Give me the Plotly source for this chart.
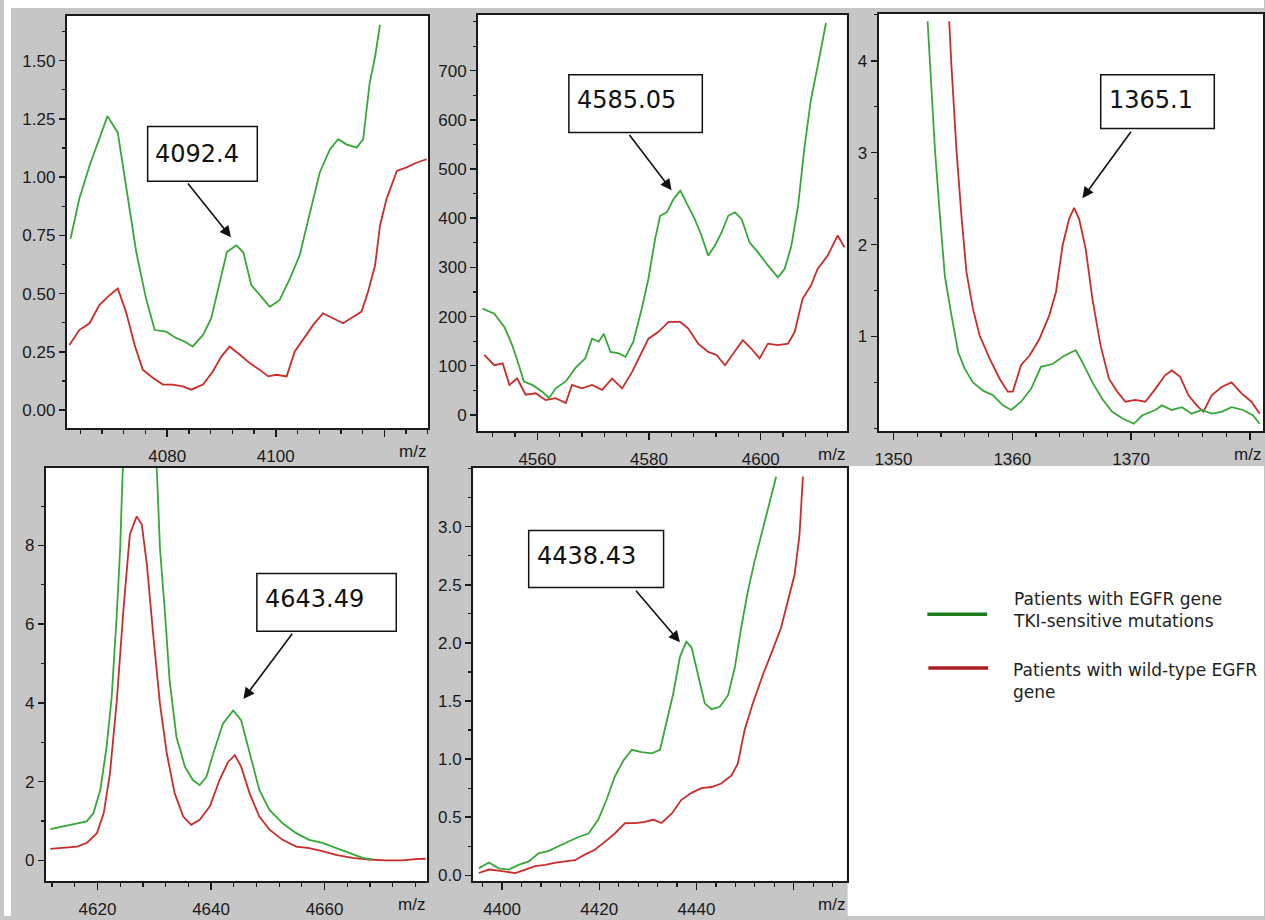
import plotly.graph_objects as go

W, H = 1265, 920

GREEN = "#35a835"
RED = "#cc2b2b"
LEG_GREEN = "#1c7c1c"
LEG_RED = "#a81c22"
GRAY = "#c6c6c6"
INK = "#1a1a1a"

legend_green = "Patients with EGFR gene<br>TKI-sensitive mutations"
legend_red = "Patients with wild-type EGFR<br>gene"

# ---------------- Panel 1 : 4092.4 ----------------
p1_green_mz = [4062.2, 4063.8, 4065.7, 4067.5, 4069.0, 4070.9, 4072.4, 4074.3, 4076.1, 4077.7,
               4079.8, 4081.7, 4083.2, 4084.7, 4086.6, 4088.1, 4089.7, 4091.0, 4092.7, 4094.0,
               4095.5, 4097.0, 4098.9, 4100.7, 4102.6, 4104.4, 4106.3, 4108.1, 4110.0, 4111.5,
               4113.0, 4114.9, 4116.1, 4117.3, 4118.3, 4119.2]
p1_green_int = [0.736, 0.906, 1.049, 1.163, 1.262, 1.191, 0.963, 0.679, 0.480, 0.344,
                0.337, 0.309, 0.295, 0.273, 0.323, 0.394, 0.551, 0.679, 0.707, 0.679,
                0.537, 0.494, 0.444, 0.472, 0.565, 0.665, 0.850, 1.020, 1.120, 1.163,
                1.141, 1.127, 1.163, 1.405, 1.518, 1.654]
p1_red_mz = [4062.0, 4063.8, 4065.7, 4067.5, 4069.4, 4070.9, 4072.4, 4074.0, 4075.5, 4077.4,
             4079.2, 4081.0, 4082.9, 4084.4, 4086.6, 4088.4, 4090.0, 4091.5, 4093.4, 4095.2,
             4097.0, 4098.6, 4100.1, 4102.0, 4103.5, 4105.7, 4106.9, 4108.7, 4110.6, 4112.4,
             4114.3, 4115.8, 4117.0, 4118.3, 4119.2, 4120.4, 4122.3, 4124.1, 4126.0, 4127.8]
p1_red_int = [0.280, 0.344, 0.373, 0.451, 0.494, 0.522, 0.423, 0.280, 0.174, 0.138,
              0.110, 0.110, 0.102, 0.088, 0.110, 0.166, 0.231, 0.273, 0.238, 0.202,
              0.174, 0.145, 0.152, 0.145, 0.252, 0.323, 0.366, 0.416, 0.394, 0.373,
              0.401, 0.423, 0.508, 0.622, 0.793, 0.906, 1.027, 1.042, 1.063, 1.077]
p1_xticks = [4080, 4100, 4120]
p1_xlabels = ["4080", "4100", ""]
p1_yticks = [0.0, 0.25, 0.5, 0.75, 1.0, 1.25, 1.5]
p1_ylabels = ["0.00", "0.25", "0.50", "0.75", "1.00", "1.25", "1.50"]

# ---------------- Panel 2 : 4585.05 ----------------
p2_green_mz = [4550.2, 4552.3, 4554.1, 4555.5, 4556.7, 4557.6, 4559.1, 4560.9, 4562.1, 4563.3,
               4565.1, 4566.8, 4568.6, 4569.8, 4571.0, 4571.9, 4573.1, 4574.6, 4575.8, 4577.2,
               4578.7, 4579.9, 4581.1, 4582.0, 4583.2, 4584.4, 4585.6, 4586.7, 4588.2, 4589.4,
               4590.6, 4591.8, 4593.0, 4594.2, 4595.4, 4596.6, 4598.0, 4599.5, 4601.3, 4603.1,
               4604.3, 4605.5, 4606.7, 4607.8, 4609.0, 4610.2, 4611.7]
p2_green_int = [216, 206, 179, 142, 101, 68, 61, 47, 34, 54,
                68, 95, 115, 155, 149, 165, 128, 125, 118, 149,
                216, 277, 358, 405, 412, 439, 456, 432, 398, 365,
                324, 344, 371, 405, 412, 398, 351, 331, 304, 280,
                297, 344, 425, 540, 641, 709, 797]
p2_red_mz = [4550.5, 4552.3, 4553.8, 4555.0, 4556.4, 4557.9, 4559.7, 4561.5, 4563.3, 4565.1,
             4566.2, 4568.0, 4569.8, 4571.6, 4573.4, 4575.2, 4577.0, 4578.4, 4579.9, 4581.7,
             4583.5, 4585.6, 4587.0, 4588.8, 4590.6, 4592.1, 4593.6, 4595.1, 4596.8, 4598.3,
             4599.8, 4601.3, 4603.1, 4604.9, 4606.1, 4607.5, 4609.0, 4610.2, 4612.0, 4613.8,
             4615.0]
p2_red_int = [122, 101, 105, 61, 74, 41, 44, 30, 34, 24,
              61, 54, 61, 51, 74, 54, 88, 122, 155, 169,
              189, 189, 176, 145, 128, 122, 101, 125, 152, 135,
              115, 145, 142, 145, 169, 236, 263, 297, 324, 365,
              341]
p2_xticks = [4560, 4580, 4600]
p2_xlabels = ["4560", "4580", "4600"]
p2_yticks = [0, 100, 200, 300, 400, 500, 600, 700]
p2_ylabels = ["0", "100", "200", "300", "400", "500", "600", "700"]

# ---------------- Panel 3 : 1365.1 ----------------
p3_green_mz = [1352.87, 1353.07, 1353.49, 1353.91, 1354.32, 1354.88, 1355.44, 1355.99, 1356.69, 1357.53,
               1358.37, 1359.21, 1359.90, 1360.74, 1361.58, 1362.41, 1363.39, 1364.37, 1365.34, 1365.90,
               1366.74, 1367.57, 1368.41, 1369.25, 1370.22, 1370.92, 1372.04, 1372.59, 1373.43, 1374.27,
               1375.10, 1375.94, 1376.78, 1377.62, 1378.45, 1379.43, 1380.27, 1380.82]
p3_green_int = [4.43, 3.94, 3.03, 2.31, 1.66, 1.23, 0.83, 0.65, 0.50, 0.41,
                0.36, 0.25, 0.20, 0.29, 0.43, 0.67, 0.70, 0.79, 0.85, 0.72,
                0.50, 0.32, 0.18, 0.11, 0.05, 0.14, 0.20, 0.25, 0.20, 0.23,
                0.16, 0.20, 0.16, 0.18, 0.23, 0.20, 0.14, 0.05]
p3_red_mz = [1354.69, 1354.88, 1355.30, 1355.72, 1356.14, 1356.69, 1357.25, 1358.09, 1358.93, 1359.62,
             1360.04, 1360.74, 1361.44, 1362.27, 1363.11, 1363.67, 1364.23, 1364.78, 1365.20, 1365.62,
             1366.18, 1366.74, 1367.43, 1368.13, 1368.83, 1369.53, 1370.36, 1371.20, 1372.04, 1372.87,
             1373.43, 1374.13, 1374.83, 1375.52, 1376.08, 1376.78, 1377.62, 1378.45, 1379.29, 1380.13,
             1380.82]
p3_red_int = [4.43, 3.94, 3.03, 2.31, 1.70, 1.30, 1.01, 0.76, 0.54, 0.40,
              0.40, 0.69, 0.79, 0.97, 1.23, 1.48, 1.99, 2.28, 2.40, 2.28,
              1.95, 1.41, 0.90, 0.54, 0.40, 0.29, 0.31, 0.29, 0.43, 0.58,
              0.63, 0.56, 0.36, 0.25, 0.18, 0.36, 0.45, 0.50, 0.38, 0.29,
              0.16]
p3_xticks = [1350, 1360, 1370, 1380]
p3_xlabels = ["1350", "1360", "1370", ""]
p3_yticks = [1, 2, 3, 4]
p3_ylabels = ["1", "2", "3", "4"]

# ---------------- Panel 4 : 4643.49 ----------------
p4_green_mz = [4611.7, 4614.0, 4616.4, 4618.1, 4619.3, 4620.5, 4621.6, 4622.5, 4623.4, 4624.0,
               4624.4, 4625.5, 4627.5, 4629.5, 4630.5, 4631.0, 4631.9, 4632.7, 4633.9, 4635.4,
               4636.8, 4638.0, 4639.2, 4640.4, 4642.1, 4643.9, 4645.3, 4646.8, 4648.5, 4650.3,
               4652.6, 4655.0, 4657.3, 4659.6, 4662.0, 4664.3, 4666.7, 4668.4]
p4_green_int = [0.79, 0.86, 0.94, 0.99, 1.20, 1.79, 2.88, 4.15, 6.26, 7.94,
                9.76, 12.5, 14.0, 12.5, 9.76, 7.94, 6.26, 4.57, 3.14, 2.38,
                2.04, 1.91, 2.12, 2.72, 3.47, 3.81, 3.56, 2.72, 1.79, 1.28,
                0.94, 0.69, 0.52, 0.44, 0.31, 0.19, 0.06, 0.02]
p4_red_mz = [4611.7, 4614.0, 4616.4, 4618.1, 4619.9, 4621.1, 4622.2, 4623.4, 4624.6, 4625.7,
             4626.9, 4627.8, 4628.7, 4629.8, 4631.0, 4632.2, 4633.6, 4635.1, 4636.5, 4638.0,
             4639.8, 4641.5, 4643.0, 4644.2, 4645.3, 4646.8, 4648.5, 4650.3, 4652.6, 4655.0,
             4657.3, 4659.6, 4662.0, 4664.9, 4667.8, 4670.8, 4673.7, 4676.0, 4677.8]
p4_red_int = [0.29, 0.31, 0.35, 0.44, 0.69, 1.20, 2.21, 4.06, 6.42, 8.28,
              8.74, 8.53, 7.52, 5.75, 3.98, 2.72, 1.70, 1.11, 0.90, 1.03,
              1.37, 2.04, 2.50, 2.67, 2.38, 1.70, 1.11, 0.78, 0.52, 0.35,
              0.31, 0.23, 0.14, 0.06, 0.02, 0.00, 0.00, 0.03, 0.04]
p4_xticks = [4620, 4640, 4660]
p4_xlabels = ["4620", "4640", "4660"]
p4_yticks = [0, 2, 4, 6, 8]
p4_ylabels = ["0", "2", "4", "6", "8"]

# ---------------- Panel 5 : 4438.43 ----------------
p5_green_mz = [4395.2, 4397.3, 4399.3, 4401.4, 4403.4, 4405.5, 4407.5, 4409.6, 4411.6, 4413.7,
               4415.7, 4417.8, 4419.8, 4421.5, 4423.2, 4425.0, 4426.7, 4428.7, 4430.8, 4432.5,
               4433.8, 4435.2, 4436.6, 4437.9, 4439.0, 4440.3, 4441.7, 4443.1, 4444.8, 4446.5,
               4447.9, 4449.2, 4450.6, 4452.0, 4453.3, 4455.0, 4456.4]
p5_green_int = [0.06, 0.11, 0.06, 0.05, 0.09, 0.12, 0.19, 0.21, 0.25, 0.29,
                0.33, 0.36, 0.48, 0.65, 0.85, 0.99, 1.08, 1.06, 1.05, 1.08,
                1.31, 1.56, 1.88, 2.01, 1.96, 1.73, 1.48, 1.43, 1.45, 1.55,
                1.79, 2.13, 2.45, 2.71, 2.93, 3.22, 3.43]
p5_red_mz = [4395.2, 4397.3, 4399.3, 4401.4, 4402.7, 4404.8, 4406.8, 4408.9, 4411.0, 4413.0,
             4415.0, 4417.1, 4419.1, 4421.2, 4423.2, 4425.3, 4427.4, 4429.4, 4431.1, 4432.8,
             4434.9, 4436.9, 4439.0, 4441.0, 4443.1, 4445.1, 4447.2, 4448.5, 4449.9, 4451.6,
             4453.7, 4455.4, 4457.4, 4458.8, 4460.2, 4461.2, 4461.9]
p5_red_int = [0.02, 0.05, 0.04, 0.03, 0.02, 0.05, 0.08, 0.09, 0.11, 0.12,
              0.13, 0.18, 0.22, 0.29, 0.36, 0.45, 0.45, 0.46, 0.48, 0.45,
              0.53, 0.65, 0.71, 0.75, 0.76, 0.79, 0.86, 0.96, 1.25, 1.48,
              1.73, 1.91, 2.13, 2.36, 2.59, 2.93, 3.43]
p5_xticks = [4400, 4420, 4440, 4460]
p5_xlabels = ["4400", "4420", "4440", ""]
p5_yticks = [0.0, 0.5, 1.0, 1.5, 2.0, 2.5, 3.0]
p5_ylabels = ["0.0", "0.5", "1.0", "1.5", "2.0", "2.5", "3.0"]

# Peak labels: text, box (x0, x1, y0, y1), text anchor (x, y), arrow tail (x, y), arrow head (x, y)
peak_labels = [
    ("4092.4", (4076.4, 4096.6, 0.983, 1.218), (4077.4, 1.099), (4083.6, 0.979), (4091.75, 0.742)),
    ("4585.05", (4565.65, 4589.55, 574.4, 691.9), (4566.7, 641.3), (4576.3, 572.4), (4584.05, 456.9)),
    ("1365.1", (1367.44, 1377.0, 3.263, 3.848), (1367.95, 3.577), (1370.08, 3.244), (1365.9, 2.504)),
    ("4643.49", (4648.07, 4672.63, 5.818, 7.286), (4649.2, 6.636), (4654.5, 5.793), (4645.7, 4.098)),
    ("4438.43", (4405.48, 4433.23, 2.477, 2.966), (4406.7, 2.749), (4427.3, 2.462), (4436.6, 2.006)),
]

panels = [
    dict(gx=p1_green_mz, gy=p1_green_int, rx=p1_red_mz, ry=p1_red_int,
         xt=p1_xticks, xl=p1_xlabels, yt=p1_yticks, yl=p1_ylabels,
         xr=[4061.5, 4128.1], yr=[-0.077, 1.692], xm=4, ym=0.125,
         px=(63, 426), py=(16, 430)),
    dict(gx=p2_green_mz, gy=p2_green_int, rx=p2_red_mz, ry=p2_red_int,
         xt=p2_xticks, xl=p2_xlabels, yt=p2_yticks, yl=p2_ylabels,
         xr=[4549.4, 4615.4], yr=[-33, 813.5], xm=4, ym=50,
         px=(476, 846), py=(15, 433)),
    dict(gx=p3_green_mz, gy=p3_green_int, rx=p3_red_mz, ry=p3_red_int,
         xt=p3_xticks, xl=p3_xlabels, yt=p3_yticks, yl=p3_ylabels,
         xr=[1348.74, 1381.1], yr=[-0.03, 4.51], xm=2, ym=0.5,
         px=(878, 1264), py=(14, 433)),
    dict(gx=p4_green_mz, gy=p4_green_int, rx=p4_red_mz, ry=p4_red_int,
         xt=p4_xticks, xl=p4_xlabels, yt=p4_yticks, yl=p4_ylabels,
         xr=[4610.9, 4678.1], yr=[-0.53, 9.97], xm=4, ym=1,
         px=(42, 425), py=(470, 885)),
    dict(gx=p5_green_mz, gy=p5_green_int, rx=p5_red_mz, ry=p5_red_int,
         xt=p5_xticks, xl=p5_xlabels, yt=p5_yticks, yl=p5_ylabels,
         xr=[4394.05, 4470.9], yr=[-0.05, 3.505], xm=4, ym=0.25,
         px=(471, 846), py=(470, 885)),
]

TICKFONT = dict(family="Liberation Sans, Arial, sans-serif", size=17, color=INK)
LABELFONT = dict(family="DejaVu Sans, sans-serif", size=24, color="#111111")
LEGFONT = dict(family="DejaVu Sans, sans-serif", size=17, color="#222222")

fig = go.Figure()
shapes = []
annotations = []
layout = {}

for i, p in enumerate(panels, start=1):
    sfx = "" if i == 1 else str(i)
    xref, yref = f"x{sfx}", f"y{sfx}"
    fig.add_trace(go.Scatter(x=p["rx"], y=p["ry"], mode="lines", xaxis=xref, yaxis=yref,
                             line=dict(color=RED, width=1.8), showlegend=False,
                             name="wild-type EGFR"))
    fig.add_trace(go.Scatter(x=p["gx"], y=p["gy"], mode="lines", xaxis=xref, yaxis=yref,
                             line=dict(color=GREEN, width=1.8), showlegend=False,
                             name="EGFR TKI-sensitive mutations"))
    common = dict(showline=True, mirror=True, linecolor=INK, linewidth=2,
                  showgrid=False, zeroline=False, ticks="outside", ticklen=7,
                  tickwidth=1.5, tickcolor=INK, tickfont=TICKFONT, fixedrange=True)
    layout[f"xaxis{sfx}"] = dict(
        common, domain=[p["px"][0] / W, p["px"][1] / W], range=p["xr"],
        anchor=yref, tickmode="array", tickvals=p["xt"], ticktext=p["xl"],
        ticklabelstandoff=4,
        minor=dict(ticks="outside", ticklen=4, tickwidth=1.2, tickcolor=INK,
                   dtick=p["xm"], tick0=p["xt"][0]))
    layout[f"yaxis{sfx}"] = dict(
        common, domain=[1 - p["py"][1] / H, 1 - p["py"][0] / H], range=p["yr"],
        anchor=xref, tickmode="array", tickvals=p["yt"], ticktext=p["yl"],
        ticklen=6,
        minor=dict(ticks="outside", ticklen=3, tickwidth=1.2, tickcolor=INK,
                   dtick=p["ym"], tick0=0))
    # m/z unit label at the right end of each x axis
    annotations.append(dict(text="m/z", xref=f"{xref} domain", yref=f"{yref} domain",
                            x=1, y=0, xanchor="right", yanchor="top", yshift=-12,
                            showarrow=False, font=TICKFONT))
    # peak label box, text and arrow
    txt, box, tpos, tail, head = peak_labels[i - 1]
    shapes.append(dict(type="rect", xref=xref, yref=yref, x0=box[0], x1=box[1],
                       y0=box[2], y1=box[3], line=dict(color="#111111", width=1.5),
                       fillcolor="white", layer="above"))
    annotations.append(dict(text=txt, xref=xref, yref=yref, x=tpos[0], y=tpos[1],
                            xanchor="left", yanchor="middle", showarrow=False,
                            font=LABELFONT))
    annotations.append(dict(text="", xref=xref, yref=yref, x=head[0], y=head[1],
                            axref=xref, ayref=yref, ax=tail[0], ay=tail[1],
                            showarrow=True, arrowhead=2, arrowsize=1.4, arrowwidth=1.6,
                            arrowcolor="#111111", standoff=0, startstandoff=0))

# white margins and legend area over the gray background
def pxbox(x0, y0, x1, y1):
    return dict(x0=x0 / W, x1=x1 / W, y0=1 - y1 / H, y1=1 - y0 / H)

for b in [pxbox(0, 0, W, 8), pxbox(0, 0, 7, H), pxbox(847, 468, W, H)]:
    shapes.append(dict(type="rect", xref="paper", yref="paper", line=dict(width=0),
                       fillcolor="white", layer="below", **b))

# legend (drawn manually)
for (x0, x1, yc, col) in [(927, 987, 617, LEG_GREEN), (928, 988, 671, LEG_RED)]:
    shapes.append(dict(type="line", xref="paper", yref="paper", x0=x0 / W, x1=x1 / W,
                       y0=1 - yc / H, y1=1 - yc / H, line=dict(color=col, width=3.5)))
annotations.append(dict(text=legend_green, xref="paper", yref="paper", x=1011 / W,
                        y=1 - 613 / H, xanchor="left", yanchor="middle", align="left",
                        showarrow=False, font=LEGFONT))
annotations.append(dict(text=legend_red, xref="paper", yref="paper", x=1011 / W,
                        y=1 - 684 / H, xanchor="left", yanchor="middle", align="left",
                        showarrow=False, font=LEGFONT))

fig.update_layout(width=W, height=H, margin=dict(l=0, r=0, t=0, b=0),
                  paper_bgcolor=GRAY, plot_bgcolor="white", showlegend=False,
                  shapes=shapes, annotations=annotations, **layout)

fig.write_html("out.html",
               config={"displayModeBar": False, "staticPlot": True},
               post_script="document.body.style.margin='0px';"
                           "document.body.style.overflow='hidden';")
